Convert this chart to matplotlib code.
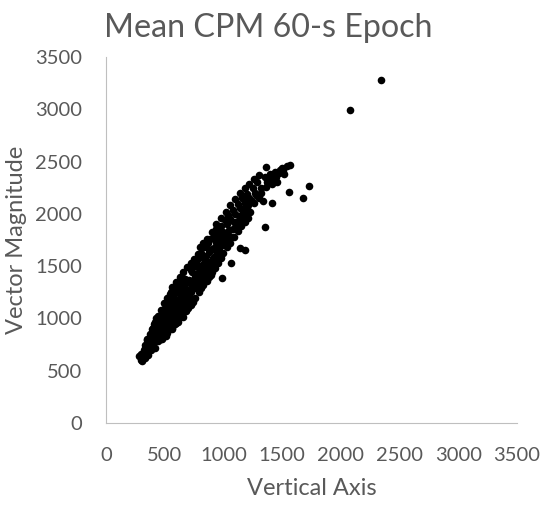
import matplotlib.pyplot as plt

# points (vertical axis cpm, vector magnitude cpm)
low_x = [285, 295, 300, 310, 320, 330, 335, 340, 350, 355, 360, 370, 375, 380, 390, 395,
         400, 405, 410, 415, 420, 425, 430, 435, 440, 445, 450]
low_y = [640, 600, 660, 590, 700, 620, 750, 680, 800, 720, 650, 780, 850, 700, 820, 900,
         760, 870, 950, 800, 720, 900, 1000, 840, 960, 780, 880]

mid_x = [455, 460, 465, 470, 475, 480, 485, 490, 495, 500, 505, 510, 515, 520, 525, 530,
         535, 540, 545, 550, 555, 560, 565, 570, 575, 580, 585, 590, 595, 600, 605, 610,
         615, 620, 625, 630, 635, 640, 645, 650, 655, 660, 665, 670, 675, 680, 685, 690,
         695, 700, 460, 475, 490, 505, 520, 535, 550, 565, 580, 595, 610, 625, 640, 655,
         670, 685, 700, 510, 545, 560, 590, 620, 650, 680]
mid_y = [1000, 880, 800, 950, 1050, 840, 920, 990, 860, 1100, 940, 830, 1030, 960, 1150, 890,
         1000, 1080, 950, 1170, 1010, 910, 1100, 970, 1200, 1050, 950, 1130, 1250, 1010, 1090, 1180,
         970, 1270, 1120, 1040, 1210, 1300, 1080, 1150, 1010, 1250, 1330, 1120, 1190, 1070, 1370, 1270,
         1160, 1230, 960, 910, 1070, 1020, 900, 1120, 1060, 1000, 1230, 1110, 1040, 1300, 1160, 1230,
         1380, 1210, 1130, 1150, 1230, 1300, 1000, 1140, 1350, 1280]

upper_x = [710, 715, 720, 730, 735, 740, 745, 750, 760, 765, 770, 780, 785, 790, 800, 805,
           810, 820, 825, 830, 840, 845, 850, 860, 865, 870, 880, 885, 890, 900, 905, 910,
           920, 925, 930, 940, 945, 950, 960, 970, 975, 980, 990, 1000, 720, 755, 795, 815,
           855, 895, 935, 965, 988, 1065, 1141]
upper_y = [1370, 1200, 1330, 1440, 1280, 1190, 1360, 1500, 1400, 1290, 1530, 1430, 1340, 1580, 1460, 1370,
           1630, 1510, 1410, 1680, 1560, 1460, 1600, 1500, 1720, 1430, 1640, 1540, 1760, 1660, 1490, 1580,
           1780, 1680, 1550, 1730, 1640, 1830, 1700, 1780, 1630, 1880, 1760, 1830, 1460, 1320, 1480, 1340,
           1680, 1420, 1860, 1590, 1386, 1530, 1673]

top_x = [1010, 1020, 1030, 1040, 1050, 1060, 1070, 1080, 1090, 1100, 1110, 1120, 1130, 1140, 1150, 1160,
         1170, 1180, 1190, 1200, 1210, 1220, 1230, 1250, 1260, 1270, 1290, 1300, 1320, 1340, 1350, 1370,
         1400, 1420, 1440, 1460, 1480, 1500, 1520, 1540, 1363, 1567, 1729, 1678, 1559, 1414, 1354, 1184,
         2078, 2342]
top_y = [1940, 1800, 1900, 1990, 1850, 1950, 1780, 2040, 1920, 2000, 1880, 2090, 1980, 2060, 1950, 2150,
         2050, 2100, 1980, 2190, 2080, 2150, 2020, 2250, 2100, 2200, 2300, 2150, 2250, 2120, 2350, 2300,
         2380, 2350, 2400, 2300, 2420, 2440, 2380, 2460, 2447, 2466, 2266, 2151, 2208, 2103, 1874, 1654,
         2992, 3279]

# right (lower) side of the band
right_x = [480, 520, 560, 600, 620, 650, 680, 700, 720, 740, 760, 790, 810, 830, 860, 880,
           900, 930, 950, 980, 1000, 1030, 1060, 1090, 1120, 1150, 1180, 1210]
right_y = [800, 860, 900, 960, 1000, 1030, 1080, 1100, 1130, 1160, 1200, 1250, 1290, 1320, 1360, 1400,
           1440, 1480, 1530, 1580, 1630, 1680, 1720, 1780, 1840, 1880, 1920, 1960]

# left (upper) side of the band
left_x = [330, 350, 380, 400, 420, 440, 470, 490, 520, 550, 580, 600, 630, 660, 690, 720,
          750, 780, 800, 830, 860, 900, 940, 980, 1020, 1060, 1100, 1140, 1180, 1220, 1260, 1300]
left_y = [720, 790, 850, 910, 970, 1020, 1080, 1150, 1200, 1250, 1300, 1350, 1400, 1440, 1490, 1530,
          1570, 1620, 1680, 1720, 1760, 1830, 1900, 1960, 2020, 2080, 2140, 2200, 2250, 2290, 2330, 2370]

# inside of the band, upper half
inner_x = [720, 750, 780, 810, 840, 870, 900, 930, 960, 990, 1020, 1050, 1080, 1110, 1140, 1170,
           1200, 1240, 1280, 1320, 1360, 1380, 1410, 1450, 1470, 1510]
inner_y = [1250, 1300, 1350, 1400, 1420, 1480, 1530, 1600, 1650, 1700, 1740, 1790, 1860, 1920, 1980, 2020,
           2060, 2120, 2180, 2200, 2260, 2330, 2290, 2350, 2390, 2420]

x = low_x + mid_x + upper_x + top_x + right_x + left_x + inner_x
y = low_y + mid_y + upper_y + top_y + right_y + left_y + inner_y

plt.rcParams['font.family'] = ['Lato', 'DejaVu Sans']
grey = '#595959'

fig = plt.figure(figsize=[5.45, 5.08], dpi=100)
ax = fig.add_axes([0.1945, 0.1673, 0.754, 0.7205])
ax.scatter(x, y, s=30, color='black', linewidths=0)

ax.set_xlim(0, 3500)
ax.set_ylim(0, 3500)
ax.set_xticks(range(0, 3501, 500))
ax.set_yticks(range(0, 3501, 500))
ax.tick_params(length=0, labelsize=14.5, labelcolor=grey)
ax.tick_params(axis='x', pad=17)
ax.tick_params(axis='y', pad=17)
for side in ['top', 'right']:
    ax.spines[side].set_visible(False)
for side in ['left', 'bottom']:
    ax.spines[side].set_color('#bfbfbf')

ax.set_xlabel('Vertical Axis', fontsize=17, color=grey, labelpad=10)
ax.set_ylabel('Vector Magnitude', fontsize=17, color=grey, labelpad=6)
fig.text(0.492, 0.945, 'Mean CPM 60-s Epoch', fontsize=23.2, color=grey,
         ha='center', va='center')

fig.savefig('out.png')
